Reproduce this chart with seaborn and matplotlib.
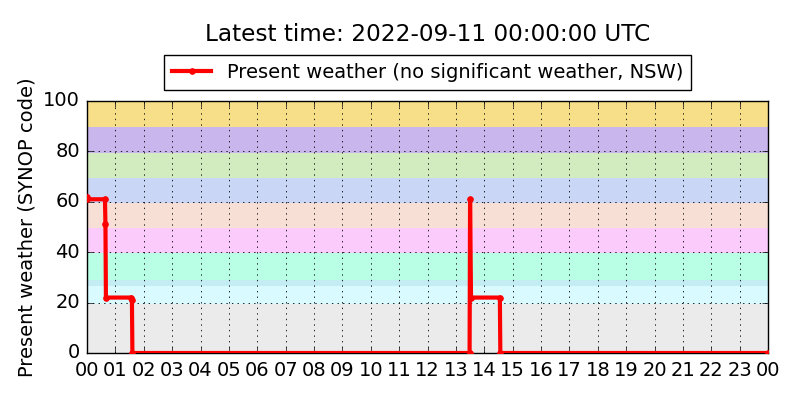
import pandas as pd
import numpy as np
import matplotlib
matplotlib.use("Agg")
import matplotlib.pyplot as plt
import matplotlib.dates as mdates
import seaborn as sns

# Observations (UTC) and present weather code
obs_times = [
    "2022-09-10 00:00", "2022-09-10 00:01", "2022-09-10 00:38", "2022-09-10 00:39",
    "2022-09-10 00:40", "2022-09-10 01:34", "2022-09-10 01:35", "2022-09-10 01:36",
    "2022-09-10 13:29", "2022-09-10 13:30", "2022-09-10 13:32", "2022-09-10 14:33",
    "2022-09-10 14:34", "2022-09-11 00:00",
]
ww_codes = [62, 61, 61, 51, 22, 22, 21, 0, 0, 61, 22, 22, 0, 0]

# SYNOP code background bands (lower, upper, colour)
band_lo = [-1, 19.5, 26.5, 29.0, 39.5, 49.5, 59.5, 69.5, 79.5, 89.5]
band_hi = [19.5, 26.5, 29.0, 39.5, 49.5, 59.5, 69.5, 79.5, 89.5, 101]
band_colors = ['#ebebeb', '#d9fbff', '#c4ecf3', '#b9ffe5', '#fbcbfb',
               '#f8dfd6', '#c9d6f5', '#d3ecbf', '#c9b6ec', '#f7df8a']

df = pd.DataFrame({'time': pd.to_datetime(obs_times), 'ww': ww_codes})

plt.style.use('classic')
plt.rcParams['font.family'] = ['DejaVu Sans']

fig = plt.figure(figsize=(8, 4), dpi=100, facecolor='white')
ax = fig.add_axes([0.10875, 0.1175, 0.85125, 0.63])

for lo, hi, c in zip(band_lo, band_hi, band_colors):
    ax.axhspan(lo, hi, color=c, lw=0, zorder=0)

sns.lineplot(data=df, x='time', y='ww', ax=ax, color='red', linewidth=3,
             marker='.', markersize=8, markeredgecolor='red',
             label='Present weather (no significant weather, NSW)', zorder=3)

ax.set_xlim(pd.Timestamp("2022-09-10 00:00"), pd.Timestamp("2022-09-11 00:00"))
ax.set_ylim(0, 100)
ax.set_yticks([0, 20, 40, 60, 80, 100])
ax.xaxis.set_major_locator(mdates.HourLocator())
ax.xaxis.set_major_formatter(mdates.DateFormatter('%H'))
ax.tick_params(labelsize=14)
ax.tick_params(axis='x', pad=6)
ax.tick_params(axis='y', pad=5)
ax.grid(True, color='k', linestyle=':', linewidth=0.6)
ax.set_axisbelow(False)
ax.set_xlabel('')
ax.set_ylabel('Present weather (SYNOP code)', fontsize=14)

ax.legend(loc='lower center', bbox_to_anchor=(0.5, 1.045), borderaxespad=0,
          numpoints=1, fontsize=14, fancybox=False, framealpha=1)
ax.set_title('Latest time: 2022-09-11 00:00:00 UTC', fontsize=16.7, y=1.21)

fig.savefig('out.png', dpi=100, facecolor='white')
